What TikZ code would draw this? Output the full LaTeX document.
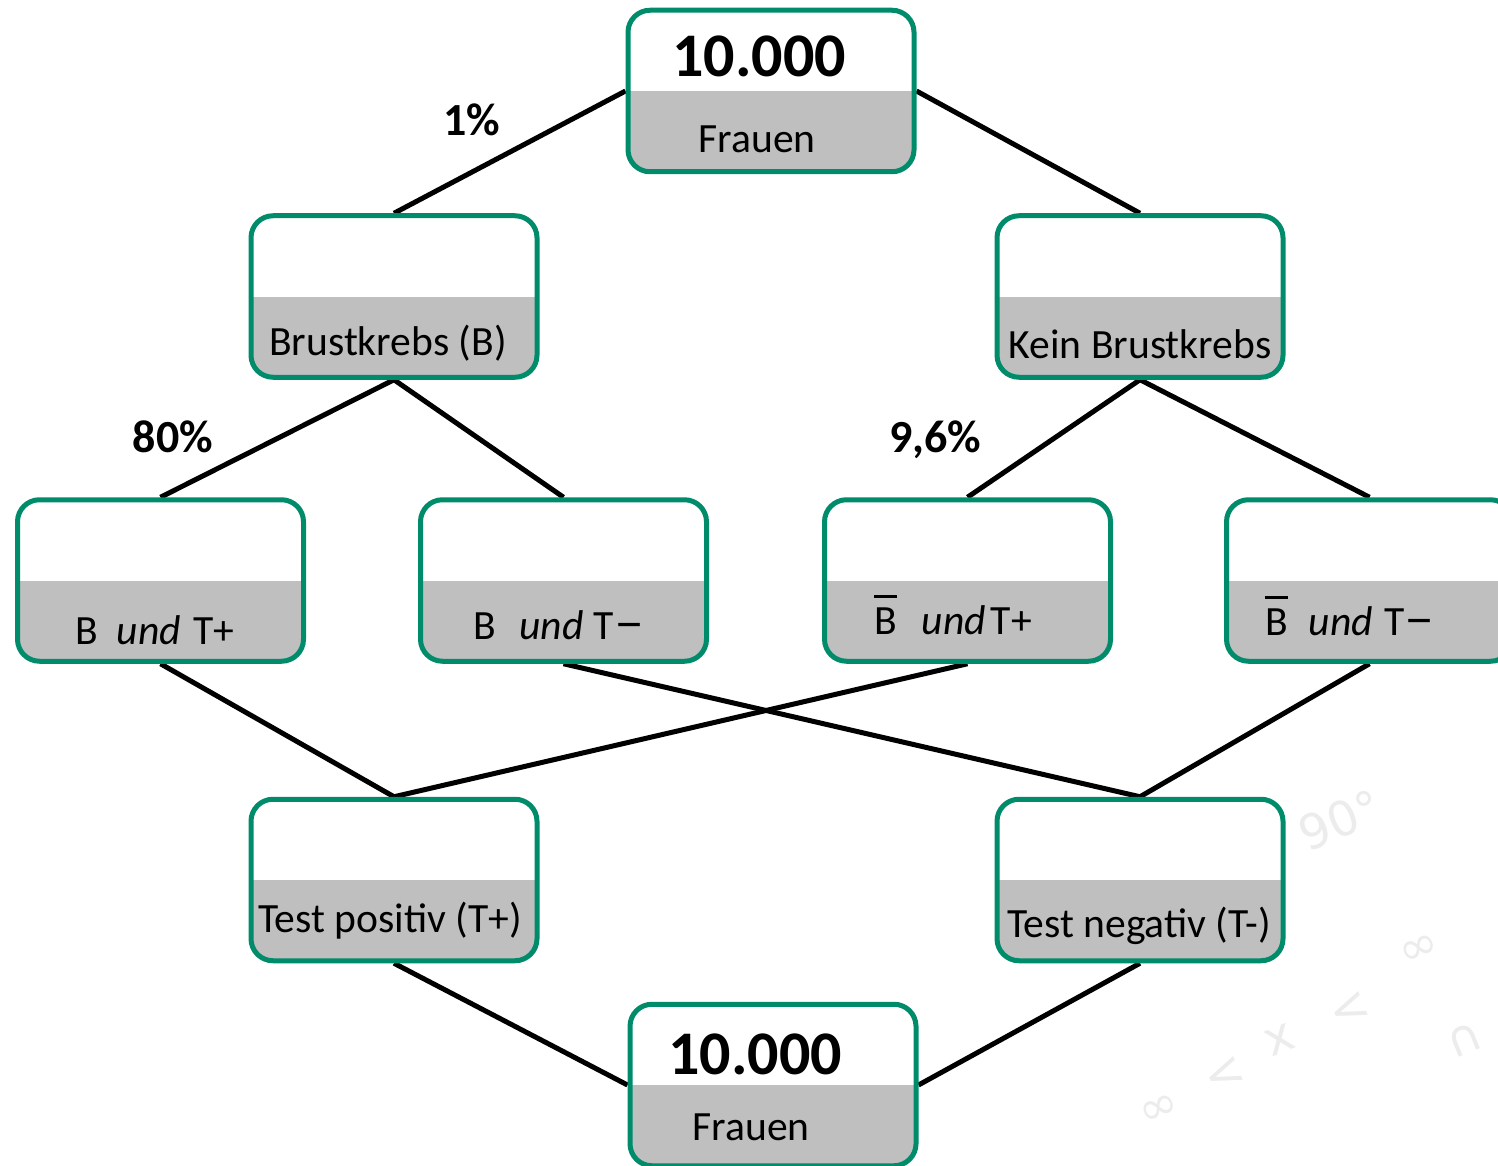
\documentclass[tikz,border=0pt]{standalone}
\usepackage{fontspec}
\usepackage{graphicx}
\setmainfont{Carlito}
\newfontfamily\symfont{DejaVu Sans}
\usetikzlibrary{backgrounds}
\definecolor{boxgreen}{RGB}{0,140,106}
\definecolor{bandgray}{RGB}{191,191,191}
\definecolor{markgray}{RGB}{236,236,236}
% B with a bar: complement of the event B
\newcommand\barB{\leavevmode\rlap{\rule[0.87em]{0.55em}{0.075em}}B}
% a wider dash for "T minus"
\newcommand\wdash{\scalebox{1.45}[1.25]{–}}
\begin{document}
\begin{tikzpicture}[x=0.5pt,y=-0.5pt,
  box/.style={draw=boxgreen, line width=2.5pt, rounded corners=11pt, fill=white,
    minimum width=143pt, minimum height=80.75pt, inner sep=0pt,
    path picture={\fill[bandgray, sharp corners] (path picture bounding box.west) rectangle (path picture bounding box.south east);}},
  lbl/.style={anchor=base, inner sep=0pt, font=\fontsize{20.8}{25}\selectfont},
  big/.style={anchor=base, inner sep=0pt, font=\fontsize{31}{36}\selectfont\bfseries},
  pct/.style={anchor=base, inner sep=0pt, font=\fontsize{23}{28}\selectfont\bfseries},
  link/.style={line width=2.5pt, black},
  wm/.style={text=markgray, inner sep=0pt, rotate=22, font=\symfont\fontsize{24}{28}\selectfont}]
\useasboundingbox (0,0) rectangle (1498,1166);

% boxes
\node[box] (top)  at (771,91)    {};
\node[box] (bk)   at (394,296.5) {};
\node[box] (kbk)  at (1140,296.5){};
\node[box] (btp)  at (160.5,580.5){};
\node[box] (btn)  at (563.5,580.5){};
\node[box] (nbtp) at (967.5,580.5){};
\node[box] (nbtn) at (1369.5,580.5){};
\node[box] (tpos) at (394,880)   {};
\node[box] (tneg) at (1140,880)  {};
\node[box] (bot)  at (773,1085)  {};

% box texts
\node[big] (t1) at (759,77)  {10.000};
\node[lbl] (t2) at (757,153) {Frauen};
\node[lbl] (t3) at (388,355) {Brustkrebs (B)};
\node[lbl] (t4) at (1140,358) {Kein Brustkrebs};
\node[lbl] (t5) at (155,644) {B\hspace{0.45em}\textit{und}\hspace{0.3em}T+};
\node[lbl] (t6) at (559,639) {B\hspace{0.55em}\textit{und}\hspace{0.25em}T\wdash};
\node[lbl] (t7) at (953,634) {\barB\hspace{0.6em}\textit{und}\hspace{0.12em}T+};
\node[lbl] (t8) at (1350,635) {\barB\hspace{0.5em}\textit{und}\hspace{0.28em}T\wdash};
\node[lbl] (t9) at (390,932) {Test positiv (T+)};
\node[lbl] (t10) at (1139,937) {Test negativ (T-)};
\node[big] (t11) at (755,1074) {10.000};
\node[lbl] (t12) at (751,1140) {Frauen};

% percentages
\node[pct] (p1) at (472,136) {1\%};
\node[pct] (p2) at (173,452) {80\%};
\node[pct] (p3) at (935,452) {9,6\%};

\begin{scope}[on background layer]
  % faint decorative symbols
  \node[wm] (w1) at (1340,820) {90°};
  \node[wm] (w2) at (1420,950) {∞};
  \node[wm] (w3) at (1350,1010) {<};
  \node[wm] (w4) at (1280,1040) {x};
  \node[wm] (w5) at (1225,1075) {<};
  \node[wm] (w6) at (1160,1110) {∞};
  \node[wm] (w7) at (1465,1040) {∩};
  % connectors
  \draw[link] (top.west) -- (bk.north);
  \draw[link] (top.east) -- (kbk.north);
  \draw[link] (bk.south) -- (btp.north);
  \draw[link] (bk.south) -- (btn.north);
  \draw[link] (kbk.south) -- (nbtp.north);
  \draw[link] (kbk.south) -- (nbtn.north);
  \draw[link] (btp.south) -- (tpos.north);
  \draw[link] (nbtp.south) -- (tpos.north);
  \draw[link] (btn.south) -- (tneg.north);
  \draw[link] (nbtn.south) -- (tneg.north);
  \draw[link] (tpos.south) -- (bot.west);
  \draw[link] (tneg.south) -- (bot.east);
\end{scope}
\end{tikzpicture}
\end{document}
